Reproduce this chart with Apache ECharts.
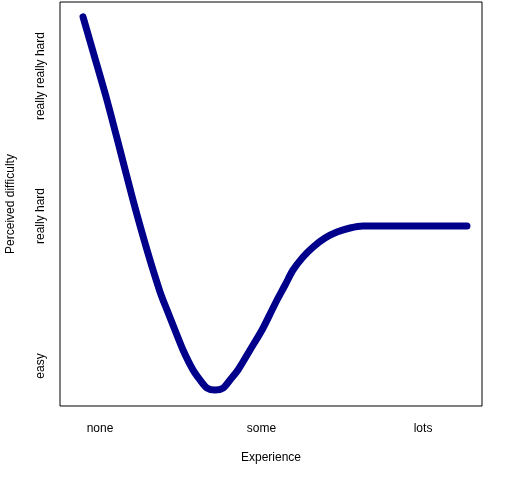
<!DOCTYPE html>
<html>
<head>
<meta charset="utf-8">
<script src="https://cdn.jsdelivr.net/npm/echarts@6/dist/echarts.min.js"></script>
<style>
  html, body { margin: 0; padding: 0; background: #fff; }
  #chart { width: 512px; height: 480px; }
</style>
</head>
<body>
<div id="chart"></div>
<script>
// tick positions and labels
const xTickValues = [1, 2, 3]
const xTickLabels = ["none", "some", "lots"]
const yTickValues = [1, 2, 2.933]
const yTickLabels = ["easy", "really hard", "really really hard"]

// curve
const experience = [0.895, 0.954, 1.043, 1.124, 1.204, 1.291, 1.372, 1.415, 1.464, 1.514,
  1.576, 1.619, 1.663, 1.712, 1.762, 1.805, 1.854, 1.929, 2.003, 2.065, 2.096, 2.146,
  2.195, 2.257, 2.319, 2.393, 2.467, 2.548, 2.628, 2.858, 3.105, 3.272]
const difficulty = [3.327, 3.107, 2.773, 2.440, 2.107, 1.773, 1.493, 1.373, 1.240, 1.107,
  0.973, 0.907, 0.853, 0.840, 0.853, 0.907, 0.973, 1.107, 1.240, 1.373, 1.440, 1.540,
  1.640, 1.727, 1.793, 1.853, 1.893, 1.920, 1.933, 1.933, 1.933, 1.933]

const labelFor = (values, labels) => (v) => {
  for (let i = 0; i < values.length; i++) {
    if (Math.abs(values[i] - v) < 1e-6) return labels[i]
  }
  return ""
}

const chart = echarts.init(document.getElementById("chart"), null, { renderer: "canvas" })
const font = "Liberation Sans, Arial, sans-serif"

chart.setOption({
  animation: false,
  grid: {
    left: 60, right: 30, top: 2, bottom: 74,
    outerBoundsMode: "none",
    containLabel: false,
    show: true, borderColor: "#000", borderWidth: 1, backgroundColor: "transparent"
  },
  xAxis: {
    type: "value",
    min: 0.7523,
    max: 3.365,
    name: "Experience",
    nameLocation: "middle",
    nameGap: 46,
    nameTextStyle: { color: "#000", fontSize: 12, fontFamily: font },
    axisLine: { show: false },
    axisTick: { show: false },
    splitLine: { show: false },
    axisLabel: {
      customValues: xTickValues,
      formatter: labelFor(xTickValues, xTickLabels),
      color: "#000", fontSize: 12, fontFamily: font, margin: 17
    }
  },
  yAxis: {
    type: "value",
    min: 0.7333,
    max: 3.4267,
    name: "Perceived difficulty",
    nameLocation: "middle",
    nameGap: 43,
    nameTextStyle: { color: "#000", fontSize: 12, fontFamily: font },
    axisLine: { show: false },
    axisTick: { show: false },
    splitLine: { show: false },
    axisLabel: {
      customValues: yTickValues,
      formatter: labelFor(yTickValues, yTickLabels),
      rotate: 90,
      color: "#000", fontSize: 12, fontFamily: font, margin: 13
    }
  },
  series: [{
    type: "line",
    data: experience.map((x, i) => [x, difficulty[i]]),
    smooth: 0.3,
    showSymbol: false,
    lineStyle: { color: "#00008B", width: 7, cap: "round", join: "round" }
  }]
})
</script>
</body>
</html>
